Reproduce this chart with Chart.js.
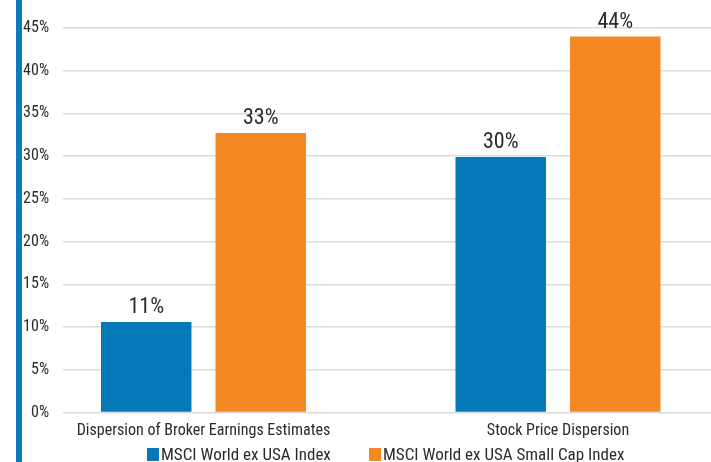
<!DOCTYPE html>
<html>
<head>
<meta charset="utf-8">
<script src="https://cdn.jsdelivr.net/npm/chart.js@4"></script>
<style>
  html,body{margin:0;padding:0;background:#fff;overflow:hidden;}
  #wrap{position:relative;width:711px;height:462px;}
  #edge{position:absolute;left:16px;top:0;width:6px;height:462px;background:#0a7bbd;}
  #legend{position:absolute;top:445px;left:0;width:711px;height:17px;font-family:Roboto,sans-serif;font-stretch:condensed;font-size:17px;color:#2b2b2b;white-space:nowrap;}
  #legend span.item{position:absolute;top:0;line-height:19px;}
  #legend i{display:inline-block;width:12px;height:13px;margin-right:2px;vertical-align:-1px;}
</style>
</head>
<body>
<div id="wrap">
  <canvas id="chart" width="711" height="462"></canvas>
  <div id="edge"></div>
  <div id="legend"></div>
</div>
<script>
/* DATA */
const categories = ['Dispersion of Broker Earnings Estimates', 'Stock Price Dispersion'];
const seriesNames = ['MSCI World ex USA Index', 'MSCI World ex USA Small Cap Index'];
const largeCap = [10.6, 29.9];
const smallCap = [32.7, 44.0];
const largeCapLabels = ['11%', '30%'];
const smallCapLabels = ['33%', '44%'];
const yTicks = [0, 5, 10, 15, 20, 25, 30, 35, 40, 45];

const blue = '#0579b8';
const orange = '#f38920';
const font = "Roboto, sans-serif";
// chart.js only passes weight through untouched, so the stretch keyword rides on it
const narrow = 'condensed';

const toPoints = arr => arr.map((v,i)=>({x:i, y:v}));

/* value labels above the bars */
const barLabels = {
  id:'barLabels',
  afterDatasetsDraw(chart){
    const ctx = chart.ctx;
    const texts = [largeCapLabels, smallCapLabels];
    ctx.save();
    ctx.font = 'condensed 22px ' + font;
    ctx.fillStyle = '#2b2b2b';
    ctx.textAlign = 'center';
    ctx.textBaseline = 'alphabetic';
    chart.data.datasets.forEach((ds,d)=>{
      chart.getDatasetMeta(d).data.forEach((bar,i)=>{
        ctx.fillText(texts[d][i], bar.x, bar.y - 9);
      });
    });
    ctx.restore();
  }
};

const chart = new Chart(document.getElementById('chart'),{
  type:'bar',
  data:{
    datasets:[
      {label:seriesNames[0], data:toPoints(largeCap), backgroundColor:blue},
      {label:seriesNames[1], data:toPoints(smallCap), backgroundColor:orange}
    ]
  },
  options:{
    responsive:false,
    animation:false,
    layout:{padding:{top:28, right:0, bottom:0, left:0}},
    datasets:{bar:{categoryPercentage:0.646, barPercentage:0.79}},
    plugins:{legend:{display:false}, tooltip:{enabled:false}},
    scales:{
      x:{
        type:'linear',
        offset:false,
        min:-0.3963, max:1.4316,
        grid:{display:false, offset:false, drawTicks:false},
        border:{display:false},
        ticks:{
          stepSize:1, includeBounds:false, autoSkip:false, maxRotation:0,
          padding:9, color:'#2b2b2b', font:{family:font, weight:narrow, size:16},
          callback:v=>categories[v] ?? ''
        },
        afterFit(s){ s.height = 49.5; }
      },
      y:{
        min:0, max:45,
        afterBuildTicks(s){ s.ticks = yTicks.map(v=>({value:v})); },
        grid:{color:'#dcdcdc', lineWidth:1.5, drawTicks:false},
        border:{display:false},
        ticks:{padding:14, color:'#2b2b2b', font:{family:font, weight:narrow, size:16}, callback:v=>v+'%'},
        afterFit(s){ s.width = 63; }
      }
    }
  },
  plugins:[barLabels]
});

/* legend */
const legend = document.getElementById('legend');
const legendLeft = [147, 369];
chart.data.datasets.forEach((ds,i)=>{
  const item = document.createElement('span');
  item.className = 'item';
  item.style.left = legendLeft[i] + 'px';
  item.innerHTML = '<i style="background:'+ds.backgroundColor+'"></i>' + ds.label;
  legend.appendChild(item);
});
</script>
</body>
</html>
